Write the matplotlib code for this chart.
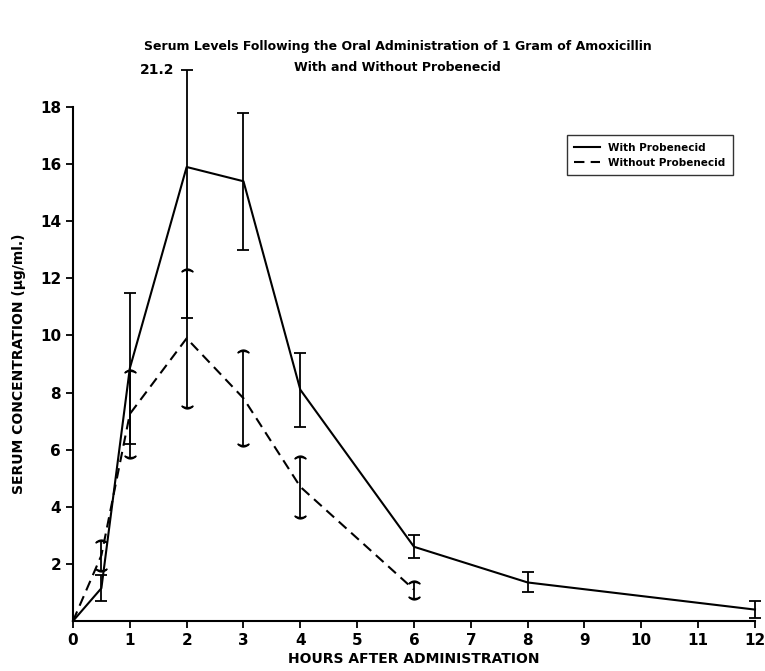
import numpy as np
import matplotlib.pyplot as plt

plt.rcParams['font.family'] = ['DejaVu Sans']
plt.rcParams['font.weight'] = 'bold'

# With Probenecid
hours_with = [0, 0.5, 1, 2, 3, 4, 6, 8, 12]
mean_with = [0, 1.15, 8.85, 15.9, 15.4, 8.1, 2.6, 1.35, 0.4]
err_with = [0, 0.45, 2.65, 5.3, 2.4, 1.3, 0.4, 0.35, 0.3]

# Without Probenecid
hours_without = [0, 0.5, 1, 2, 3, 4, 6]
mean_without = [0, 2.3, 7.25, 9.9, 7.8, 4.7, 1.1]
err_without = [0, 0.5, 1.5, 2.4, 1.65, 1.05, 0.28]

bar_clip = 19.3  # top of the drawn 21.2 bar

fig = plt.figure(figsize=(7.65, 6.71), dpi=100)
ax = fig.add_axes([0.0954, 0.0745, 0.8915, 0.766])

lw = 1.5
ax.plot(hours_with, mean_with, color='black', lw=lw, label='With Probenecid', clip_on=False)
ax.plot(hours_without, mean_without, color='black', lw=lw, ls=(0, (5, 3)),
        label='Without Probenecid', clip_on=False)

# error bars, with probenecid: flat caps
hw = np.array(hours_with[1:])
mw = np.array(mean_with[1:])
ew = np.array(err_with[1:])
top_w = np.minimum(mw + ew, bar_clip)
low_w = np.maximum(mw - ew, 0.05)
ax.vlines(hw, low_w, top_w, color='black', lw=1.3, clip_on=False)
ax.plot(hw, top_w, ls='none', marker='_', ms=8, mew=1.3, color='black', clip_on=False)
ax.plot(hw, low_w, ls='none', marker='_', ms=8, mew=1.3, color='black', clip_on=False)

# error bars, without probenecid: curved caps
ho = np.array(hours_without[1:])
mo = np.array(mean_without[1:])
eo = np.array(err_without[1:])
ax.vlines(ho, mo - eo, mo + eo, color='black', lw=1.3, clip_on=False)
ax.plot(ho, mo + eo, ls='none', marker='$\\frown$', ms=8, color='black', clip_on=False)
ax.plot(ho, mo - eo, ls='none', marker='$\\smile$', ms=8, color='black', clip_on=False)

ax.text(2 - 0.22, bar_clip, '21.2', ha='right', va='center', fontsize=10, fontweight='bold')

ax.set_xlim(0, 12)
ax.set_ylim(0, 18)
ax.set_xticks(range(0, 13))
ax.set_yticks(range(2, 19, 2))
ax.tick_params(labelsize=11, width=1.3, length=5)
for s in ['top', 'right']:
    ax.spines[s].set_visible(False)
for s in ['left', 'bottom']:
    ax.spines[s].set_linewidth(1.5)

ax.set_xlabel('HOURS AFTER ADMINISTRATION', fontsize=10, fontweight='bold', labelpad=3)
ax.set_ylabel('SERUM CONCENTRATION (\u00b5g/ml.)', fontsize=10, fontweight='bold', labelpad=10)

fig.text(0.52, 0.930, 'Serum Levels Following the Oral Administration of 1 Gram of Amoxicillin',
         ha='center', va='center', fontsize=9, fontweight='bold')
fig.text(0.52, 0.900, 'With and Without Probenecid',
         ha='center', va='center', fontsize=9, fontweight='bold')

leg = ax.legend(loc='upper right', bbox_to_anchor=(0.975, 0.955), fontsize=7.5, frameon=True,
                fancybox=False, edgecolor='black', handlelength=2.5, borderpad=0.7)
leg.get_frame().set_linewidth(1.0)

fig.savefig('out.png', dpi=100)
